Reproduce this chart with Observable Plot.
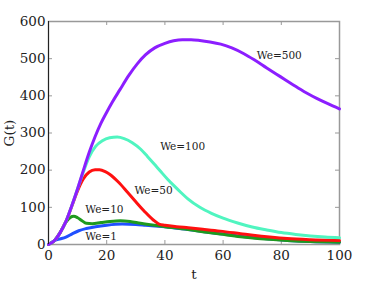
<!DOCTYPE html>
<html><head><meta charset="utf-8">
<script src="https://cdn.jsdelivr.net/npm/d3@7"></script>
<script src="https://cdn.jsdelivr.net/npm/@observablehq/plot@0.6"></script>
<style>
body{margin:0;background:#fff}
</style>
</head><body><div id="chart"></div>
<script>
const xTicks = [0, 20, 40, 60, 80, 100];
const yTicks = [0, 100, 200, 300, 400, 500, 600];
const seriesNames = ["We=1", "We=10", "We=50", "We=100", "We=500"];
const colors = ["#2050ff", "#1e9a1e", "#ff1010", "#50f5c0", "#8c1eff"];

const t_we1 = [0, 1.5, 3, 4.5, 6, 8, 10.4, 13, 16.2, 20, 25.3, 30, 33.3, 38, 44, 48, 55, 59, 66, 71, 82, 90, 100];
const G_we1 = [0, 8, 13, 16, 20, 28, 37, 43, 48, 52, 55, 54, 52, 49, 44, 40, 33, 29, 22, 18, 11, 8, 6];

const t_we10 = [0, 2, 4, 6, 7.5, 8.7, 10, 11.5, 13, 15, 18, 21, 24.7, 28, 31.6, 35, 40, 48, 55, 59, 66, 71, 76, 82, 90, 100];
const G_we10 = [0, 10, 32, 60, 73, 76, 72, 64, 57, 56, 59, 62, 64, 62, 57, 53, 48, 40, 32, 28, 21, 17, 14, 11, 8, 6];

const t_we50 = [0, 2, 4, 6, 8, 10, 12, 14, 16, 17.5, 19.5, 21, 24, 27, 30, 33, 36, 38, 40, 44, 48, 53, 59, 66, 71, 76, 82, 90, 100];
const G_we50 = [0, 10, 32, 62, 103, 145, 177, 195, 201, 201, 196, 189, 168, 142, 115, 89, 66, 55, 52, 48, 45, 41, 36, 29, 24, 20, 16, 13, 11];

const t_we100 = [0, 2, 4, 6, 8, 10, 12, 14, 16.2, 18.5, 21, 23.6, 26, 28.8, 31.6, 34, 36.5, 38.5, 41, 43, 45.5, 48, 52, 56, 60, 65, 70, 75, 80, 85, 90, 95, 100];
const G_we100 = [0, 10, 32, 62, 104, 150, 196, 236, 264, 279, 287, 289, 285, 274, 257, 237, 215, 197, 175, 159, 140, 122, 100, 84, 71, 58, 47, 39, 32, 27, 23, 20, 18];

const t_we500 = [0, 2, 4, 6, 8, 10, 12, 14, 16, 18, 20, 22, 24.5, 27.6, 30.5, 33.3, 36.5, 40, 43, 46, 49, 52, 55.5, 59.2, 63, 67, 70.7, 75, 79.8, 84, 87.9, 92, 96, 100];
const G_we500 = [0, 10, 32, 62, 104, 150, 200, 248, 290, 326, 356, 384, 416, 455, 486, 510, 529, 541, 548, 551, 551, 549, 545, 539, 529, 514, 497, 475, 451, 430, 411, 394, 379, 365];

const labelT = [18.1, 19.2, 36.1, 46.1, 79.3];
const labelG = [20, 94, 145, 262, 508];

const seriesT = [t_we1, t_we10, t_we50, t_we100, t_we500];
const seriesG = [G_we1, G_we10, G_we50, G_we100, G_we500];
const rows = [];
seriesNames.forEach((s, k) => seriesT[k].forEach((t, i) => rows.push({s, t, G: seriesG[k][i]})));

const serif = "DejaVu Serif";
const chart = Plot.plot({
  width: 374, height: 281,
  marginLeft: 48, marginRight: 35, marginTop: 21, marginBottom: 37,
  x: {domain: [0, 100]},
  y: {domain: [0, 600]},
  color: {domain: seriesNames, range: colors},
  style: {fontFamily: serif, background: "white", color: "#222"},
  marks: [
    Plot.frame({stroke: "#999", strokeWidth: 1.5}),
    Plot.tickX(xTicks, {x: d => d, stroke: "#999", insetTop: 219}),
    Plot.tickX(xTicks, {x: d => d, stroke: "#999", insetBottom: 219}),
    Plot.tickY(yTicks, {y: d => d, stroke: "#999", insetRight: 287}),
    Plot.tickY(yTicks, {y: d => d, stroke: "#999", insetLeft: 287}),
    Plot.line(rows, {x: "t", y: "G", z: "s", stroke: "s", strokeWidth: 3, curve: "monotone-x"}),
    Plot.ruleX([0], {stroke: "#222", strokeWidth: 1}),
    Plot.axisX(xTicks, {tickSize: 0, tickPadding: 6, fontSize: 13.5, fontFamily: serif, label: "t", labelAnchor: "center", labelArrow: "none", labelOffset: 34}),
    Plot.axisY(yTicks, {tickSize: 0, tickPadding: 3, fontSize: 13.5, fontFamily: serif, label: "G(t)", labelAnchor: "center", labelArrow: "none", labelOffset: 44}),
    Plot.text(seriesNames, {x: (d, i) => labelT[i], y: (d, i) => labelG[i], text: d => d, fontSize: 10.5, fontFamily: serif, fill: "#222"})
  ]
});
document.getElementById("chart").appendChild(chart);
</script>
</body></html>
